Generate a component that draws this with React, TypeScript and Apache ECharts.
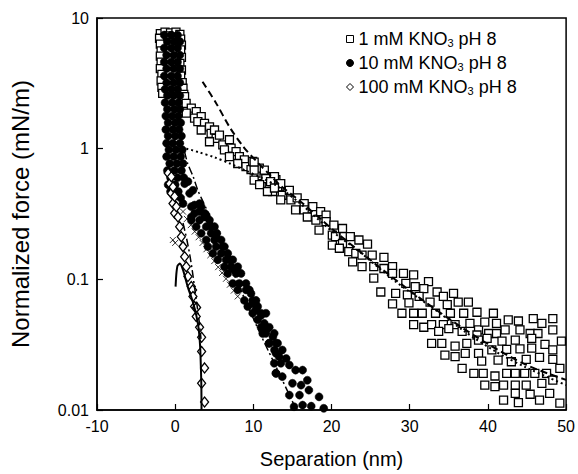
import React, { useEffect, useRef } from "react";
import * as echarts from "echarts";

const seriesNames = ["1 mM KNO3 pH 8", "10 mM KNO3 pH 8", "100 mM KNO3 pH 8"];
const xAxisRange = [-10, 50];
const yAxisRange = [0.01, 10];
const xTickStep = 10;

// 1 mM KNO3 (open squares)
const squares1mM: number[][] = [
  [-1.9, 7.6], [-1.3, 7.8], [-0.6, 7.7], [0.1, 7.8], [0.6, 7.5], [-2.0, 7.0], [0.7, 6.9], [-1.9, 6.3], [0.8, 6.2],
  [-1.8, 5.6], [0.7, 5.7], [-1.9, 5.1], [0.8, 5.0], [-1.8, 4.6], [0.6, 4.5], [-1.9, 4.1], [0.8, 4.0], [-1.7, 3.7],
  [0.7, 3.6], [-1.8, 3.3], [0.9, 3.2], [-1.7, 2.95], [1.0, 2.9], [-1.6, 2.65], [1.1, 2.6], [-0.9, 7.3], [-0.2, 7.1],
  [1.2, 2.5], [1.4, 2.22], [2.06, 2.04], [1.42, 1.87], [2.7, 1.92], [2.48, 1.71], [3.33, 1.76], [2.9, 1.61],
  [3.75, 1.56], [4.39, 1.47], [3.33, 1.39], [4.6, 1.31], [5.03, 1.39], [5.24, 1.2], [5.66, 1.27], [4.39, 1.13],
  [6.09, 1.07], [6.94, 1.17], [7.15, 1.01], [6.3, 0.98], [7.79, 0.95], [6.94, 0.87], [8.21, 0.87], [8.85, 0.82],
  [8.0, 0.77], [9.06, 0.73], [9.91, 0.8], [9.7, 0.69], [10.34, 0.65], [10.76, 0.71], [11.61, 0.61], [11.19, 0.54],
  [12.03, 0.51], [12.88, 0.58], [12.46, 0.47], [13.1, 0.51],
  [10.1, 0.79], [10.1, 0.685], [11.4, 0.685], [10.1, 0.575], [11.6, 0.59], [10.8, 0.53], [12.7, 0.61], [12.2, 0.56],
  [13.5, 0.54], [11.8, 0.47], [12.7, 0.5], [13.7, 0.44], [14.6, 0.48], [14.8, 0.405], [15.6, 0.42], [13.5, 0.405],
  [16.5, 0.38], [17.6, 0.36], [15.4, 0.34], [16.5, 0.34], [16.9, 0.3], [18.6, 0.33], [19.3, 0.31], [18.0, 0.284],
  [19.3, 0.276], [18.4, 0.238], [20.3, 0.26], [21.4, 0.245], [20.1, 0.218], [20.5, 0.212], [21.6, 0.212],
  [22.4, 0.212], [21.4, 0.188], [20.1, 0.183], [23.5, 0.2], [24.6, 0.186], [21.0, 0.173], [22.2, 0.163],
  [23.1, 0.158], [23.9, 0.153], [25.2, 0.153], [26.7, 0.147], [22.7, 0.136], [23.9, 0.125], [25.4, 0.125],
  [26.7, 0.121], [27.8, 0.125], [27.8, 0.111], [29.2, 0.111], [30.5, 0.108], [32.4, 0.096], [25.4, 0.102],
  [29.5, 0.093], [30.7, 0.088], [31.8, 0.085], [28.2, 0.078], [26.3, 0.08], [29.7, 0.076], [31.2, 0.074],
  [32.6, 0.067], [33.5, 0.08], [34.3, 0.074], [35.6, 0.078], [34.8, 0.064], [36.2, 0.067], [37.5, 0.067],
  [27.8, 0.065], [29.9, 0.066], [29.0, 0.055], [30.5, 0.055], [31.6, 0.055], [33.3, 0.055], [35.2, 0.055],
  [36.9, 0.055], [38.6, 0.056], [40.7, 0.055], [30.5, 0.045], [31.8, 0.043], [32.8, 0.045], [34.3, 0.045],
  [35.8, 0.045], [37.7, 0.046], [38.8, 0.041], [39.6, 0.047], [41.1, 0.046], [42.6, 0.049], [43.9, 0.048],
  [45.8, 0.05], [46.9, 0.046], [48.3, 0.05], [33.7, 0.04], [35.0, 0.042], [36.7, 0.04], [38.6, 0.0375],
  [40.1, 0.0385], [41.1, 0.0385], [42.2, 0.041], [44.1, 0.041], [45.4, 0.0385], [46.4, 0.0385], [48.3, 0.041],
  [32.8, 0.0324], [34.1, 0.0324], [35.8, 0.0308], [37.3, 0.0324], [38.8, 0.0343], [39.9, 0.0353], [41.8, 0.0337],
  [43.5, 0.0343], [45.6, 0.0353], [47.3, 0.0318], [49.4, 0.0337], [34.5, 0.0263], [35.8, 0.0256], [37.1, 0.0271],
  [38.8, 0.0271], [40.5, 0.0288], [42.4, 0.0291], [44.1, 0.0294], [45.6, 0.0298], [48.3, 0.0288], [36.7, 0.0208],
  [38.2, 0.0191], [39.4, 0.0191], [40.9, 0.0182], [42.4, 0.0191], [43.5, 0.0191], [44.7, 0.0191], [46.0, 0.0191],
  [47.5, 0.0191], [49.2, 0.0208], [39.2, 0.0237], [41.3, 0.0241], [43.0, 0.0234], [44.9, 0.0244], [46.6, 0.0253],
  [48.3, 0.0244], [39.6, 0.0155], [40.9, 0.0151], [42.0, 0.0155], [43.5, 0.0155], [44.9, 0.0155], [46.9, 0.016],
  [48.3, 0.0169], [42.0, 0.0119], [43.9, 0.0114], [45.4, 0.0132], [46.6, 0.0119], [47.9, 0.0134], [49.2, 0.0113],
  [43.5, 0.0134],
];

// 10 mM KNO3 (filled circles)
const circles10mM: number[][] = [
  [-1.4, 7.4], [-0.5, 7.4], [0.3, 7.4], [-1.0, 6.6], [-0.1, 6.6], [0.6, 6.6], [-1.4, 5.9], [-0.5, 5.9], [0.3, 5.9],
  [-1.1, 5.2], [-0.2, 5.2], [0.6, 5.2], [-1.4, 4.6], [-0.5, 4.6], [0.3, 4.6], [-1.1, 4.1], [-0.2, 4.1], [0.6, 4.1],
  [-1.4, 3.6], [-0.5, 3.6], [0.3, 3.6], [-1.1, 3.2], [-0.2, 3.2], [0.6, 3.2], [-1.3, 2.85], [-0.5, 2.85], [0.3, 2.85],
  [-1.0, 2.55], [-0.2, 2.55], [0.6, 2.55], [-1.3, 2.25], [-0.4, 2.25], [0.4, 2.25], [-1.0, 2.0], [-0.1, 2.0], [0.6, 2.0],
  [-1.2, 1.78], [-0.4, 1.78], [0.4, 1.78], [-0.9, 1.58], [0.0, 1.58], [0.7, 1.58], [-1.2, 1.4], [-0.3, 1.4], [0.5, 1.4],
  [-0.9, 1.25], [0.0, 1.25], [0.8, 1.25], [-1.1, 1.1], [-0.3, 1.1], [0.6, 1.1], [-0.8, 0.98], [0.1, 0.98], [0.9, 0.98],
  [-1.1, 0.87], [-0.2, 0.87], [0.7, 0.87], [-0.7, 0.77], [0.2, 0.77], [1.0, 0.77], [-1.0, 0.68], [-0.1, 0.68], [0.8, 0.68],
  [-0.6, 0.6], [0.3, 0.6], [1.1, 0.6], [-0.9, 0.53], [0.0, 0.53], [-0.6, 0.47], [0.4, 0.47], [0.7, 0.42], [1.0, 0.38],
  [1.21, 0.54], [1.84, 0.455], [2.48, 0.37], [3.12, 0.33], [2.06, 0.3], [3.97, 0.31], [1.63, 0.56], [2.27, 0.48],
  [3.12, 0.38], [3.76, 0.3], [4.61, 0.253], [5.24, 0.212], [6.09, 0.178], [6.94, 0.141], [7.58, 0.118],
  [2.06, 0.36], [3.33, 0.36], [2.48, 0.32], [3.75, 0.32], [2.06, 0.284], [3.12, 0.284], [4.39, 0.284],
  [2.69, 0.253], [3.97, 0.253], [5.03, 0.253], [3.33, 0.225], [4.6, 0.225], [5.33, 0.225], [3.97, 0.2],
  [5.03, 0.2], [5.88, 0.2], [4.18, 0.178], [5.24, 0.178], [6.3, 0.178], [4.82, 0.158], [5.88, 0.158],
  [6.72, 0.158], [5.45, 0.141], [6.51, 0.141], [7.36, 0.141], [6.3, 0.125], [7.15, 0.125], [8.0, 0.125],
  [6.72, 0.111], [7.79, 0.111], [8.42, 0.111], [7.36, 0.093], [8.21, 0.093], [9.06, 0.093], [8.0, 0.083],
  [9.06, 0.083], [9.49, 0.083], [8.85, 0.069], [9.91, 0.069], [10.34, 0.069], [9.28, 0.062], [10.55, 0.062],
  [9.91, 0.055], [10.98, 0.055], [11.61, 0.055], [10.98, 0.043], [12.03, 0.043], [11.61, 0.0386], [12.67, 0.0386],
  [12.03, 0.0324], [13.1, 0.0324], [12.88, 0.0272], [12.67, 0.0228], [13.52, 0.0228], [12.88, 0.0191],
  [9.7, 0.078], [9.9, 0.065], [10.3, 0.058], [11.0, 0.053], [10.55, 0.049], [11.4, 0.046], [11.8, 0.042],
  [11.2, 0.0385], [12.5, 0.0364], [12.0, 0.0324], [12.9, 0.0324], [12.7, 0.0288], [13.7, 0.0288], [13.3, 0.0256],
  [14.2, 0.0248], [14.6, 0.0221], [12.9, 0.0191], [13.7, 0.018], [15.4, 0.0202], [16.3, 0.0202], [15.0, 0.016],
  [16.1, 0.0155], [16.9, 0.0169], [14.6, 0.013], [15.9, 0.013], [17.1, 0.0142], [18.4, 0.0126], [15.2, 0.0106],
  [16.3, 0.0109], [17.4, 0.0107], [19.0, 0.0103],
];

// 100 mM KNO3 (open diamonds)
const diamonds100mM: number[][] = [
  [-0.9, 0.65], [-0.7, 0.54], [-0.49, 0.455], [-0.28, 0.38], [-0.07, 0.32], [-0.49, 0.61], [-0.28, 0.51],
  [-0.07, 0.43], [0.15, 0.36], [0.36, 0.3], [0.57, 0.253], [0.78, 0.212], [1.0, 0.178], [1.21, 0.149],
  [1.42, 0.125], [1.63, 0.105], [2.06, 0.088], [2.23, 0.083], [2.27, 0.074], [2.48, 0.062], [2.74, 0.061],
  [2.69, 0.052], [3.12, 0.043], [3.38, 0.036], [3.38, 0.028], [3.76, 0.021], [3.38, 0.016], [3.76, 0.0115],
];

// fitted curves
const dashed1mM: number[][] = [
  [3.5, 3.25], [5.2, 2.25], [7.0, 1.45], [8.8, 1.02], [10.4, 0.8], [12.0, 0.64], [13.5, 0.52], [15.9, 0.4],
  [20, 0.245], [25, 0.14], [30, 0.082], [35, 0.05], [40, 0.032], [45, 0.022], [50, 0.017],
];
const dotted1mM: number[][] = [
  [0.8, 1.02], [2.0, 0.98], [3.0, 0.94], [5.0, 0.86], [7.0, 0.77], [9.0, 0.68], [11.0, 0.6], [13.0, 0.52],
  [16, 0.38], [20, 0.235], [24, 0.155], [28, 0.098], [33, 0.06], [37, 0.04], [41, 0.028], [45, 0.021], [50, 0.0155],
];
const dashDot10mM: number[][] = [
  [1.2, 0.95], [1.6, 0.77], [2.3, 0.61], [2.9, 0.48], [3.5, 0.4], [4.0, 0.345], [5.2, 0.235], [6.3, 0.163],
  [8.5, 0.08], [11, 0.037], [13.5, 0.018], [15.5, 0.01],
];
const cross10mM: number[][] = [
  [-0.3, 0.2], [0.0, 0.19], [1.0, 0.33], [1.5, 0.29], [2.0, 0.26], [2.5, 0.232], [3.0, 0.21], [3.5, 0.19],
  [4.0, 0.17], [4.5, 0.153], [5.0, 0.138], [5.5, 0.124], [6.0, 0.112], [6.5, 0.101], [7.0, 0.091], [7.5, 0.082],
  [8.0, 0.074],
];
const dashDot100mM: number[][] = [
  [1.0, 0.27], [1.5, 0.2], [1.9, 0.15], [2.2, 0.115], [2.5, 0.085], [2.8, 0.063], [3.1, 0.046], [3.3, 0.035],
];
const solid100mM: number[][] = [
  [0.05, 0.088], [0.15, 0.11], [0.3, 0.127], [0.6, 0.132], [1.0, 0.118], [1.6, 0.088], [2.3, 0.066], [2.7, 0.053],
  [3.0, 0.042], [3.2, 0.03], [3.3, 0.02], [3.35, 0.015], [3.37, 0.01],
];

const FONT = "'Liberation Sans', Arial, sans-serif";

export default function App() {
  const ref = useRef<HTMLDivElement>(null);
  useEffect(() => {
    if (!ref.current) return;
    const chart = echarts.init(ref.current, undefined, { renderer: "svg" });
    const lineBase = (name: string, data: number[][], type: any, width: number, smooth = 0.3) => ({
      name,
      type: "line",
      data,
      showSymbol: false,
      symbol: "none",
      smooth,
      z: 6,
      silent: true,
      lineStyle: { color: "#000", width, type },
    });
    chart.setOption({
      animation: false,
      backgroundColor: "#fff",
      textStyle: { fontFamily: FONT, color: "#000" },
      grid: {
        left: 97,
        right: 10,
        top: 18,
        bottom: 64,
        show: true,
        borderColor: "#000",
        borderWidth: 1.5,
        backgroundColor: "transparent",
      },
      legend: {
        data: seriesNames,
        orient: "vertical",
        left: 341,
        top: 25,
        itemGap: 6,
        itemWidth: 7,
        itemHeight: 7,
        itemStyle: { borderWidth: 1 },
        formatter: (n: string) => n.replace("KNO3", "KNO{sub|3}"),
        textStyle: {
          fontFamily: FONT,
          fontSize: 18,
          color: "#000",
          rich: { sub: { fontFamily: FONT, fontSize: 11, color: "#000", verticalAlign: "bottom" } },
        },
      },
      xAxis: {
        type: "value",
        min: xAxisRange[0],
        max: xAxisRange[1],
        interval: xTickStep,
        name: "Separation (nm)",
        nameLocation: "middle",
        nameGap: 39,
        nameTextStyle: { fontFamily: FONT, fontSize: 20, color: "#000" },
        axisLine: { onZero: false, lineStyle: { color: "#000", width: 1.5 } },
        axisTick: { inside: true, length: 6, lineStyle: { color: "#000", width: 1.2 } },
        axisLabel: { fontFamily: FONT, fontSize: 16, color: "#000", margin: 8 },
        splitLine: { show: false },
      },
      yAxis: {
        type: "log",
        logBase: 10,
        min: yAxisRange[0],
        max: yAxisRange[1],
        name: "Normalized force (mN/m)",
        nameLocation: "middle",
        nameGap: 65,
        nameTextStyle: { fontFamily: FONT, fontSize: 24, color: "#000" },
        axisLine: { onZero: false, lineStyle: { color: "#000", width: 1.5 } },
        axisTick: { inside: true, length: 6, lineStyle: { color: "#000", width: 1.2 } },
        axisLabel: {
          fontFamily: FONT,
          fontSize: 16,
          color: "#000",
          margin: 8,
          formatter: (v: number) => String(Number(v.toPrecision(2))),
        },
        splitLine: { show: false },
        minorTick: { show: false },
      },
      series: [
        {
          name: seriesNames[0],
          type: "scatter",
          data: squares1mM,
          symbol: "rect",
          symbolSize: 8,
          z: 2,
          itemStyle: { color: "#fff", borderColor: "#000", borderWidth: 1.3, opacity: 1 },
        },
        {
          name: seriesNames[1],
          type: "scatter",
          data: circles10mM,
          symbol: "circle",
          symbolSize: 8,
          z: 3,
          itemStyle: { color: "#000", borderColor: "#000", borderWidth: 0.5, opacity: 1 },
        },
        {
          name: seriesNames[2],
          type: "scatter",
          data: diamonds100mM,
          symbol: "diamond",
          symbolSize: [8, 10],
          z: 4,
          itemStyle: { color: "#fff", borderColor: "#000", borderWidth: 1.3, opacity: 1 },
        },
        lineBase("fit dashed 1 mM", dashed1mM, [7, 4], 2),
        lineBase("fit dotted 1 mM", dotted1mM, [2, 3], 2),
        lineBase("fit dash-dot 10 mM", dashDot10mM, [8, 3, 2, 3], 1.5),
        lineBase("fit dash-dot 100 mM", dashDot100mM, [8, 3, 2, 3], 1.5),
        lineBase("fit 100 mM", solid100mM, "solid", 2, 0.2),
        {
          name: "fit x 10 mM",
          type: "scatter",
          data: cross10mM,
          symbol: "path://M0,0L10,10M10,0L0,10",
          symbolSize: 6,
          z: 6,
          silent: true,
          itemStyle: { color: "none", borderColor: "#000", borderWidth: 1 },
        },
      ],
    });
    return () => chart.dispose();
  }, []);
  return (
    <div
      ref={ref}
      style={{ position: "fixed", left: 0, top: 0, width: 578, height: 474, background: "#fff" }}
    />
  );
}
